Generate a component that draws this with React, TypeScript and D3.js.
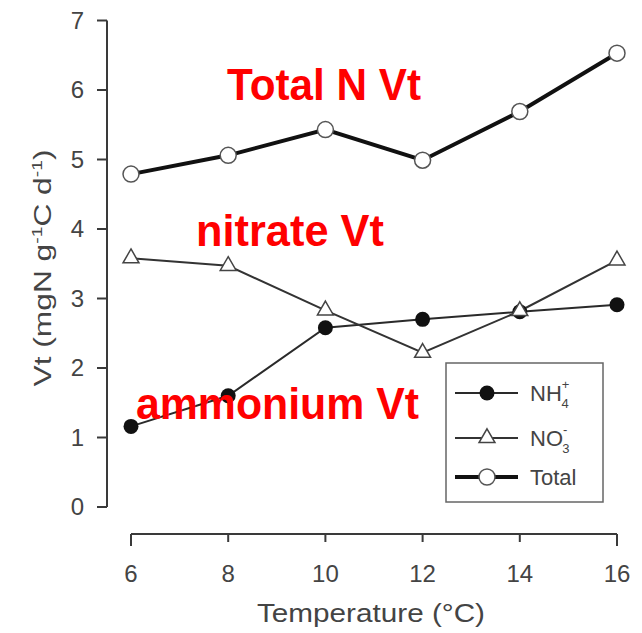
import React from "react";
import * as d3 from "d3";

const temps = [6, 8, 10, 12, 14, 16];
const ammonium = [1.16, 1.6, 2.58, 2.7, 2.81, 2.91];
const nitrate = [3.58, 3.47, 2.83, 2.22, 2.82, 3.55];
const total = [4.79, 5.06, 5.43, 4.99, 5.69, 6.53];
const yTicks = [0, 1, 2, 3, 4, 5, 6, 7];
const xTicks = [6, 8, 10, 12, 14, 16];

const W = 642;
const H = 633;
const FONT = "'Liberation Sans', Arial, sans-serif";

export default function App() {
  const x = d3.scaleLinear().domain([6, 16]).range([131, 617]);
  const y = d3.scaleLinear().domain([0, 7]).range([507, 20.5]);
  const line = d3
    .line<number>()
    .x((_, i) => x(temps[i]))
    .y((d) => y(d));

  const tri = d3.symbol().type(d3.symbolTriangle).size(110)();

  const axisColor = "#3a3a3a";
  const textColor = "#444";

  return (
    <svg
      width={W}
      height={H}
      style={{ position: "absolute", left: 0, top: 0, background: "#fff" }}
    >
      {/* Y axis */}
      <line x1={107} x2={107} y1={y(7)} y2={y(0)} stroke={axisColor} strokeWidth={2} />
      {yTicks.map((t) => (
        <g key={t}>
          <line x1={97} x2={107} y1={y(t)} y2={y(t)} stroke={axisColor} strokeWidth={2} />
          <text
            x={84}
            y={y(t)}
            dy="0.35em"
            textAnchor="end"
            fontFamily={FONT}
            fontSize={24}
            fill={textColor}
          >
            {t}
          </text>
        </g>
      ))}
      {/* Y title */}
      <text
        transform={`translate(51,268) rotate(-90)`}
        textAnchor="middle"
        fontFamily={FONT}
        fontSize={23}
        fill={textColor}
        textLength={237}
        lengthAdjust="spacingAndGlyphs"
      >
        Vt (mgN g
        <tspan fontSize={14} dy={-9}>-1</tspan>
        <tspan dy={9}>C d</tspan>
        <tspan fontSize={14} dy={-9}>-1</tspan>
        <tspan dy={9}>)</tspan>
      </text>

      {/* X axis */}
      <line x1={x(6)} x2={x(16)} y1={534} y2={534} stroke={axisColor} strokeWidth={2} />
      {xTicks.map((t, i) => (
        <g key={t}>
          <line
            x1={x(t)}
            x2={x(t)}
            y1={534}
            y2={i === 0 || i === xTicks.length - 1 ? 546 : 542}
            stroke={axisColor}
            strokeWidth={2}
          />
          <text
            x={x(t)}
            y={582}
            textAnchor="middle"
            fontFamily={FONT}
            fontSize={24}
            fill={textColor}
          >
            {t}
          </text>
        </g>
      ))}
      <text
        x={371}
        y={622}
        textAnchor="middle"
        fontFamily={FONT}
        fontSize={25}
        fill={textColor}
        textLength={228}
        lengthAdjust="spacingAndGlyphs"
      >
        Temperature (°C)
      </text>

      {/* Lines */}
      <path d={line(ammonium) || ""} fill="none" stroke="#2a2a2a" strokeWidth={2} />
      <path d={line(nitrate) || ""} fill="none" stroke="#333" strokeWidth={2} />
      <path d={line(total) || ""} fill="none" stroke="#111" strokeWidth={4} />

      {/* Markers */}
      {ammonium.map((v, i) => (
        <circle key={"a" + i} cx={x(temps[i])} cy={y(v)} r={7.5} fill="#111" />
      ))}
      {nitrate.map((v, i) => (
        <path
          key={"n" + i}
          d={tri || ""}
          transform={`translate(${x(temps[i])},${y(v)})`}
          fill="#fff"
          stroke="#444"
          strokeWidth={1.5}
        />
      ))}
      {total.map((v, i) => (
        <circle
          key={"t" + i}
          cx={x(temps[i])}
          cy={y(v)}
          r={8}
          fill="#fff"
          stroke="#555"
          strokeWidth={1.5}
        />
      ))}

      {/* Legend */}
      <rect x={446} y={363} width={157} height={139} fill="#fff" stroke="#666" strokeWidth={1.5} />
      <line x1={455} x2={518} y1={393} y2={393} stroke="#2a2a2a" strokeWidth={2} />
      <circle cx={487} cy={393} r={7.5} fill="#111" />
      <text x={530} y={401} fontFamily={FONT} fontSize={22} fill={textColor}>
        NH
        <tspan fontSize={13} dy={-12}>+</tspan>
        <tspan fontSize={13} dx={-8} dy={19}>4</tspan>
      </text>
      <line x1={455} x2={518} y1={438} y2={438} stroke="#333" strokeWidth={2} />
      <path d={tri || ""} transform="translate(487,438)" fill="#fff" stroke="#444" strokeWidth={1.5} />
      <text x={530} y={446} fontFamily={FONT} fontSize={22} fill={textColor}>
        NO
        <tspan fontSize={13} dy={-12}>-</tspan>
        <tspan fontSize={13} dx={-5} dy={19}>3</tspan>
      </text>
      <line x1={455} x2={518} y1={477} y2={477} stroke="#111" strokeWidth={4} />
      <circle cx={487} cy={477} r={8} fill="#fff" stroke="#555" strokeWidth={1.5} />
      <text x={530} y={485} fontFamily={FONT} fontSize={22} fill={textColor}>
        Total
      </text>

      {/* Red annotations */}
      <text
        x={227}
        y={100}
        fontFamily={FONT}
        fontWeight="bold"
        fontSize={44}
        fill="#ff0000"
        textLength={194}
        lengthAdjust="spacingAndGlyphs"
      >
        Total N Vt
      </text>
      <text
        x={196}
        y={246}
        fontFamily={FONT}
        fontWeight="bold"
        fontSize={44}
        fill="#ff0000"
        textLength={188}
        lengthAdjust="spacingAndGlyphs"
      >
        nitrate Vt
      </text>
      <text
        x={136}
        y={419}
        fontFamily={FONT}
        fontWeight="bold"
        fontSize={44}
        fill="#ff0000"
        textLength={283}
        lengthAdjust="spacingAndGlyphs"
      >
        ammonium Vt
      </text>
    </svg>
  );
}
